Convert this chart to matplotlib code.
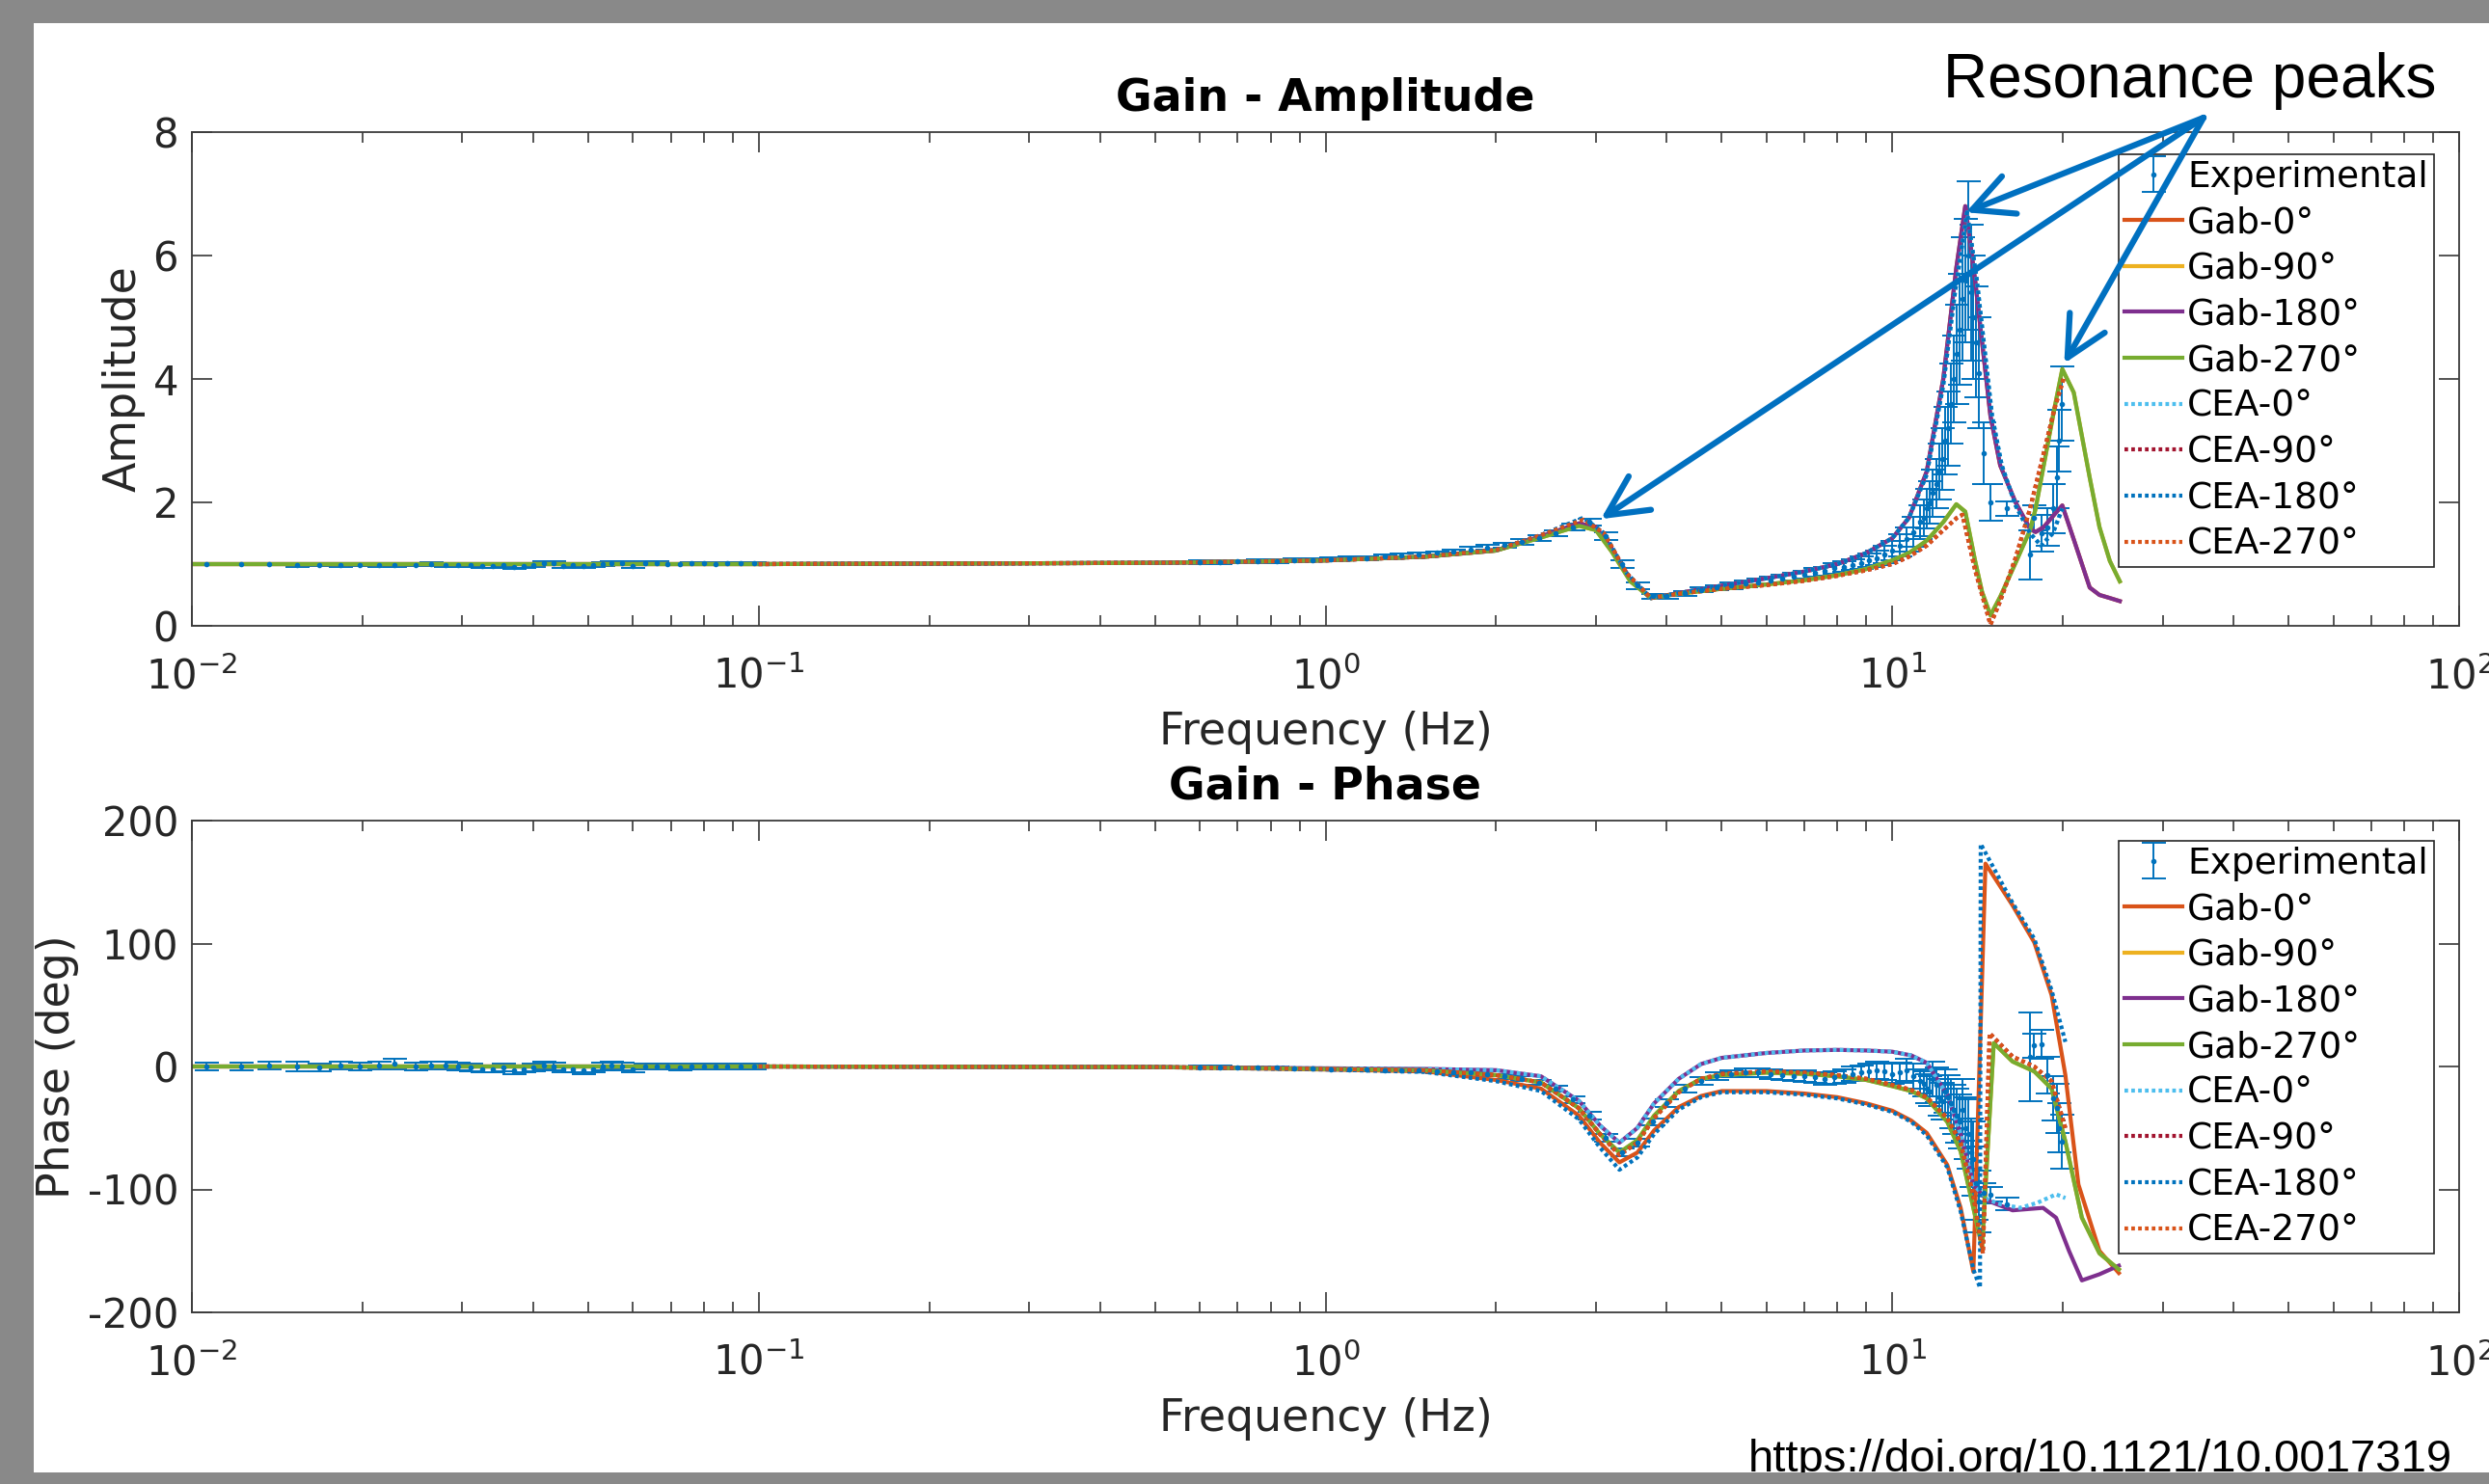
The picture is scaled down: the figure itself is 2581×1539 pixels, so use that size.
import matplotlib
matplotlib.use("Agg")
import matplotlib.pyplot as plt
from matplotlib.patches import Rectangle

plt.rcParams['font.family'] = ['DejaVu Sans']
plt.rcParams['axes.unicode_minus'] = False
plt.rcParams['mathtext.default'] = 'regular'

W, H = 2581, 1539

f_exp_lo = [0.0106, 0.0122, 0.0137, 0.0153, 0.0168, 0.0183, 0.0198, 0.0214, 0.0228, 0.0248,
            0.0264, 0.028, 0.0295, 0.031, 0.0325, 0.034, 0.0355, 0.037, 0.0385, 0.04,
            0.0418, 0.0435, 0.0452, 0.047, 0.049, 0.051, 0.053, 0.055, 0.0575, 0.06,
            0.063, 0.066, 0.069, 0.0725, 0.076, 0.08, 0.084, 0.088, 0.093, 0.098]
amp_exp_lo = [1.0, 1.0, 1.0, 0.99, 0.99, 0.99, 0.99, 0.99, 0.99, 0.99,
              1.0, 0.99, 0.98, 0.98, 0.97, 0.97, 0.98, 0.96, 0.97, 0.98,
              1.02, 1.01, 0.97, 0.98, 0.97, 0.98, 1.0, 1.02, 1.02, 0.97,
              1.02, 1.01, 1.0, 1.0, 1.01, 1.01, 1.0, 1.01, 1.01, 1.01]
amp_err_lo = [0.02, 0.02, 0.02, 0.03, 0.02, 0.03, 0.02, 0.03, 0.03, 0.02,
              0.03, 0.03, 0.03, 0.03, 0.03, 0.04, 0.03, 0.04, 0.03, 0.03,
              0.03, 0.03, 0.04, 0.03, 0.03, 0.03, 0.03, 0.03, 0.03, 0.04,
              0.03, 0.03, 0.02, 0.02, 0.02, 0.02, 0.02, 0.02, 0.02, 0.02]
ph_exp_lo = [0, 0, 1, 0, -1, 1, 0, 1, 2, 0,
             1, 1, 0, -1, -2, -2, -1, -3, -2, -1,
             1, 0, -2, -2, -3, -2, 0, 1, 0, -2,
             0, 0, 0, -1, 0, 0, 0, 0, 0, 0]
ph_err_lo = [3, 3, 3, 4, 3, 3, 3, 3, 4, 3,
             3, 3, 3, 3, 3, 3, 3, 3, 3, 3,
             3, 3, 3, 3, 3, 3, 3, 3, 3, 3,
             2, 2, 2, 2, 2, 2, 2, 2, 2, 2]

f_exp_hi = [0.6, 0.65, 0.7, 0.76, 0.82, 0.88, 0.95, 1.02, 1.1, 1.18,
            1.27, 1.36, 1.46, 1.57, 1.68, 1.8, 1.93, 2.07, 2.22, 2.38,
            2.55, 2.73, 2.92, 3.12, 3.33, 3.55, 3.78, 4.0, 4.3, 4.6,
            4.9, 5.2, 5.5, 5.8, 6.1, 6.4, 6.7, 7.0, 7.3, 7.6,
            7.9, 8.2, 8.5, 8.8, 9.1, 9.4, 9.7, 10.0, 10.3, 10.6,
            10.9, 11.2, 11.5, 11.8, 12.1, 12.4, 12.7, 13.0, 13.3, 13.6,
            13.9, 14.2, 14.9, 15.9, 17.5, 17.8, 18.3, 18.8, 19.2, 19.5,
            19.7, 19.9,
            11.35, 11.65, 11.95, 12.25, 12.55, 12.85, 13.15, 13.45, 13.75, 14.05,
            14.5]
amp_exp_hi = [1.03, 1.03, 1.04, 1.05, 1.05, 1.06, 1.07, 1.08, 1.09, 1.1,
              1.12, 1.14, 1.16, 1.18, 1.21, 1.24, 1.27, 1.31, 1.36, 1.42,
              1.5, 1.6, 1.68, 1.45, 1.0, 0.65, 0.48, 0.48, 0.53, 0.58,
              0.62, 0.65, 0.68, 0.71, 0.74, 0.77, 0.8, 0.83, 0.86, 0.89,
              0.93, 0.96, 0.99, 1.02, 1.06, 1.1, 1.15, 1.22, 1.3, 1.4,
              1.52, 1.68, 1.9, 2.15, 2.5, 3.0, 3.6, 4.4, 5.3, 6.0,
              5.0, 4.1, 2.0, 1.9, 1.15, 1.75, 1.5, 1.6, 1.9, 2.4,
              3.0, 3.6,
              1.75, 2.0, 2.3, 2.7, 3.2, 4.0, 4.8, 5.6, 5.4, 4.6,
              2.8]
amp_err_hi = [0.03, 0.03, 0.03, 0.03, 0.03, 0.03, 0.03, 0.03, 0.03, 0.03,
              0.03, 0.03, 0.03, 0.03, 0.03, 0.04, 0.04, 0.04, 0.04, 0.05,
              0.05, 0.05, 0.06, 0.06, 0.06, 0.05, 0.04, 0.04, 0.04, 0.04,
              0.04, 0.05, 0.05, 0.05, 0.05, 0.06, 0.06, 0.06, 0.07, 0.07,
              0.08, 0.08, 0.09, 0.1, 0.11, 0.12, 0.14, 0.16, 0.18, 0.2,
              0.24, 0.28, 0.32, 0.38, 0.45, 0.55, 0.65, 0.8, 1.0, 1.2,
              1.0, 0.9, 0.3, 0.12, 0.4, 0.2, 0.3, 0.3, 0.4, 0.5,
              0.5, 0.6,
              0.3, 0.35, 0.4, 0.5, 0.6, 0.7, 0.9, 1.0, 1.1, 0.9,
              0.5]
ph_exp_hi = [-0.5, -0.5, -1, -1, -1, -1.5, -1.5, -2, -2, -2.5,
             -3, -3, -3.5, -4, -4.5, -5, -6, -8, -10, -13,
             -18, -27, -40, -58, -70, -62, -45, -30, -18, -12,
             -8, -6, -5, -5, -6, -7, -8, -8, -9, -10,
             -9, -8, -6, -5, -4, -3, -4, -6, -5, -3,
             -8, -12, -18, -10, -25, -20, -30, -40, -35, -55,
             -75, -110, -104, -112, 8, 17, 18, -7, -26, -34,
             -50, -61,
             -14, -20, -15, -28, -25, -35, -45, -50, -70, -95,
             -103]
ph_err_hi = [1, 1, 1, 1, 1, 1, 1, 1, 1, 1,
             1, 1, 1.5, 1.5, 1.5, 2, 2, 2, 2, 2,
             2.5, 2.5, 3, 3, 3, 3, 3, 3, 3, 3,
             3, 3, 3.5, 3.5, 4, 4, 4, 4.5, 4.5, 5,
             5, 5.5, 6, 6, 6.5, 7, 7, 8, 8, 9,
             10, 10, 12, 14, 15, 18, 20, 22, 25, 28,
             30, 25, 6, 5, 36, 10, 12, 15, 18, 20,
             20, 22,
             10, 12, 14, 15, 18, 20, 22, 25, 28, 30,
             8]

# ---- model curves: amplitude ----
f_amp_gab = [0.01, 0.1, 0.5, 1.0, 1.5, 2.0, 2.4, 2.8, 3.0, 3.2,
             3.45, 3.75, 4.2, 5.0, 6.0, 7.0, 8.0, 9.0, 10.0, 10.7,
             11.5, 12.3, 12.97, 13.45, 14.0, 14.4, 14.9, 15.5, 16.5, 17.5,
             17.9, 18.5, 19.3, 19.95, 20.9, 22.3, 23.2, 24.2, 25.2]
amp_gab_0_180 = [1.0, 1.0, 1.02, 1.06, 1.12, 1.22, 1.45, 1.66, 1.6, 1.25,
                 0.75, 0.45, 0.53, 0.65, 0.77, 0.88, 1.0, 1.18, 1.42, 1.75,
                 2.5, 4.0, 5.8, 6.8, 5.6, 4.6, 3.4, 2.6, 2.0, 1.57,
                 1.52, 1.6, 1.8, 1.95, 1.4, 0.62, 0.5, 0.45, 0.4]
amp_gab_90_270 = [1.0, 1.0, 1.02, 1.06, 1.12, 1.22, 1.43, 1.62, 1.55, 1.2,
                  0.72, 0.45, 0.52, 0.6, 0.67, 0.74, 0.82, 0.92, 1.06, 1.18,
                  1.38, 1.68, 1.97, 1.85, 1.05, 0.55, 0.17, 0.47, 1.02, 1.55,
                  1.9, 2.6, 3.5, 4.16, 3.78, 2.4, 1.6, 1.05, 0.72]

f_amp_cea_a = [0.1, 0.5, 1.0, 1.5, 2.0, 2.4, 2.85, 3.1, 3.4, 3.75,
               4.2, 5.0, 6.0, 7.0, 8.0, 9.0, 10.0, 10.7, 11.5, 12.3,
               12.9, 13.55, 14.1, 14.5, 15.0, 15.6, 16.5, 17.5, 18.3, 19.2,
               19.95]
amp_cea_0_180 = [1.0, 1.02, 1.06, 1.12, 1.23, 1.47, 1.75, 1.5, 0.85, 0.45,
                 0.53, 0.65, 0.77, 0.88, 1.0, 1.18, 1.42, 1.75, 2.45, 3.9,
                 5.4, 6.7, 5.6, 4.6, 3.4, 2.6, 1.95, 1.5, 1.3, 1.5,
                 1.9]
f_amp_cea_b = [0.1, 0.5, 1.0, 1.5, 2.0, 2.4, 2.85, 3.1, 3.4, 3.75,
               4.2, 5.0, 6.0, 7.0, 8.0, 9.0, 10.0, 10.7, 11.5, 12.3,
               13.0, 13.3, 14.0, 14.9, 15.5, 16.5, 17.5, 18.5, 19.3, 20.05]
amp_cea_90_270 = [1.0, 1.02, 1.06, 1.12, 1.23, 1.47, 1.72, 1.5, 0.85, 0.45,
                  0.52, 0.6, 0.66, 0.73, 0.81, 0.9, 1.0, 1.12, 1.3, 1.55,
                  1.75, 1.8, 0.9, 0.02, 0.4, 1.1, 1.9, 2.8, 3.5, 4.0]

# ---- model curves: phase ----
f_ph_gab0 = [0.01, 0.1, 0.5, 1.0, 1.5, 2.0, 2.4, 2.8, 3.05, 3.3,
             3.55, 3.8, 4.2, 4.6, 5.0, 6.0, 7.0, 8.0, 9.0, 10.0,
             10.8, 11.5, 12.5, 13.2, 13.9, 14.6, 16.3, 17.8, 19.1, 20.2,
             21.3, 23.2, 25.1]
ph_gab0 = [0, 0, -0.5, -2.5, -4, -11, -18, -40, -62, -78,
           -70, -52, -33, -24, -20, -20, -22, -25, -30, -36,
           -44, -54, -80, -115, -167, 165, 131, 101, 58, -7,
           -96, -150, -168]
f_ph_gab180 = [0.01, 0.1, 0.5, 1.0, 1.5, 2.0, 2.4, 2.8, 3.05, 3.3,
               3.55, 3.8, 4.2, 4.6, 5.0, 6.0, 7.0, 8.0, 9.0, 10.0,
               10.8, 11.5, 12.5, 13.2, 13.9, 14.7, 16.3, 18.45, 19.45, 20.5,
               21.6, 23.2, 25.1]
ph_gab180 = [0, 0, -0.5, -1.5, -2, -3, -8, -28, -48, -62,
             -50, -30, -10, 2, 7, 11, 13, 13.5, 13, 12,
             9, 3, -23, -55, -96, -109, -117, -115, -123, -150,
             -174, -169, -162]
f_ph_gab270 = [0.01, 0.1, 0.5, 1.0, 1.5, 2.0, 2.4, 2.8, 3.05, 3.3,
               3.55, 3.8, 4.2, 4.6, 5.0, 6.0, 7.0, 8.0, 9.0, 10.0,
               10.8, 11.5, 12.5, 13.2, 13.9, 14.4, 15.1, 16.3, 17.8, 19.1,
               20.2, 21.6, 23.2, 25.1]
ph_gab90_270 = [0, 0, -0.5, -2, -3, -7, -13, -34, -55, -70,
                -60, -40, -20, -10, -7, -5, -6, -8, -11, -16,
                -20, -26, -45, -69, -115, -147, 19, 4, -4, -18,
                -61, -123, -152, -165]

f_ph_cea0 = [0.1, 0.5, 1.0, 1.5, 2.0, 2.4, 2.8, 3.05, 3.3, 3.55,
             3.8, 4.2, 4.6, 5.0, 6.0, 7.0, 8.0, 9.0, 10.0, 10.8,
             11.5, 12.5, 13.2, 13.9, 14.7, 15.5, 16.8, 18.0, 19.45, 20.2]
ph_cea0 = [0, -0.5, -1.5, -2, -3, -8, -28, -48, -62, -50,
           -30, -10, 2, 7, 11, 13, 13.5, 13, 12, 9,
           3, -23, -55, -96, -108, -112, -115, -111, -104, -107]
f_ph_cea180 = [0.1, 0.5, 1.0, 1.5, 2.0, 2.4, 2.8, 3.05, 3.3, 3.55,
               3.8, 4.2, 4.6, 5.0, 6.0, 7.0, 8.0, 9.0, 10.0, 10.8,
               11.5, 12.5, 13.2, 13.9, 14.28, 14.32, 16.3, 17.8, 19.1, 20.2]
ph_cea180 = [0, -0.5, -2.5, -4.5, -12, -20, -43, -66, -84, -74,
             -55, -35, -25, -21, -21, -23, -26, -31, -37, -45,
             -56, -82, -118, -165, -180, 181, 133, 104, 62, 20]
f_ph_cea270 = [0.1, 0.5, 1.0, 1.5, 2.0, 2.4, 2.8, 3.05, 3.3, 3.55,
               3.8, 4.2, 4.6, 5.0, 6.0, 7.0, 8.0, 9.0, 10.0, 10.8,
               11.5, 12.5, 13.2, 13.9, 14.45, 14.85, 16.3, 17.8, 19.1, 20.2]
ph_cea90_270 = [0, -0.5, -2, -3, -7, -13, -34, -55, -72, -62,
                -42, -21, -10, -6, -4, -5, -7, -10, -15, -19,
                -25, -42, -62, -105, -152, 27, 8, 0, -12, -50]

labels = ['Gab-0°', 'Gab-90°', 'Gab-180°', 'Gab-270°',
          'CEA-0°', 'CEA-90°', 'CEA-180°', 'CEA-270°']
colors = ['#D95319', '#EDB120', '#7E2F8E', '#77AC30',
          '#4DBEEE', '#A2142F', '#0072BD', '#D95319']

amp_series = [(f_amp_gab, amp_gab_0_180), (f_amp_gab, amp_gab_90_270),
              (f_amp_gab, amp_gab_0_180), (f_amp_gab, amp_gab_90_270),
              (f_amp_cea_a, amp_cea_0_180), (f_amp_cea_b, amp_cea_90_270),
              (f_amp_cea_a, amp_cea_0_180), (f_amp_cea_b, amp_cea_90_270)]
ph_series = [(f_ph_gab0, ph_gab0), (f_ph_gab270, ph_gab90_270),
             (f_ph_gab180, ph_gab180), (f_ph_gab270, ph_gab90_270),
             (f_ph_cea0, ph_cea0), (f_ph_cea270, ph_cea90_270),
             (f_ph_cea180, ph_cea180), (f_ph_cea270, ph_cea90_270)]

ink = '#262626'
fig = plt.figure(figsize=(W / 100, H / 100), dpi=100)
ax1 = fig.add_axes([199 / W, 1 - 649 / H, 2351 / W, 512 / H])
ax2 = fig.add_axes([199 / W, 1 - 1361 / H, 2351 / W, 510 / H])


def draw(ax, y_lo, e_lo, y_hi, e_hi, series):
    ax.errorbar(f_exp_lo + f_exp_hi, y_lo + y_hi, yerr=e_lo + e_hi, fmt='.',
                color='#0072BD', ms=6, elinewidth=1.4, capsize=9, capthick=1.4,
                label='Experimental')
    for i, (f, y) in enumerate(series):
        ls = '-' if i < 4 else (0, (0.9, 0.8))
        ax.plot(f, y, color=colors[i], lw=3, ls=ls, label=labels[i])
    ax.set_xscale('log')
    ax.set_xlim(0.01, 100)
    ax.set_xticks([0.01, 0.1, 1, 10, 100])
    ax.tick_params(which='both', direction='in', top=True, right=True,
                   color=ink, labelcolor=ink, labelsize=30, width=1.1)
    ax.tick_params(which='major', length=15, pad=10)
    ax.tick_params(which='minor', length=8)
    ax.tick_params(axis='x', which='major', pad=23)
    for s in ax.spines.values():
        s.set_color('#3c3c3c')
        s.set_linewidth(1.3)
    ax.set_xlabel('Frequency (Hz)', fontsize=33, color=ink, labelpad=10)

    # legend: Experimental first, like the original
    hs, ls_ = ax.get_legend_handles_labels()
    order = [ls_.index('Experimental')] + [ls_.index(l) for l in labels]
    return [hs[k] for k in order], [ls_[k] for k in order]


leg_items = []
leg_items.append(draw(ax1, amp_exp_lo, amp_err_lo, amp_exp_hi, amp_err_hi, amp_series))
ax1.set_ylim(0, 8)
ax1.set_yticks([0, 2, 4, 6, 8])
ax1.set_ylabel('Amplitude', fontsize=33, color=ink)
ax1.yaxis.set_label_coords(-0.0204, 0.5)
ax1.set_title('Gain - Amplitude', fontsize=33, fontweight='bold', pad=16)

leg_items.append(draw(ax2, ph_exp_lo, ph_err_lo, ph_exp_hi, ph_err_hi, ph_series))
ax2.set_ylim(-200, 200)
ax2.set_yticks([-200, -100, 0, 100, 200])
ax2.set_ylabel('Phase (deg)', fontsize=33, color=ink)
ax2.yaxis.set_label_coords(-0.0498, 0.5)
ax2.set_title('Gain - Phase', fontsize=33, fontweight='bold', pad=16)

for ax, top, (hs, lb) in zip([ax1, ax2], [160, 872], leg_items):
    leg = ax.legend(hs, lb, loc='upper left', bbox_to_anchor=(2197 / W, 1 - top / H),
                    bbox_transform=fig.transFigure, fontsize=27, frameon=True,
                    fancybox=False, framealpha=1, edgecolor=ink, borderpad=0.15,
                    labelspacing=0.31, handlelength=1.6, handletextpad=0.15,
                    borderaxespad=0)
    leg.get_frame().set_linewidth(1.2)

# annotation arrows (drawn above the legend)
start = (2285 / W, 1 - 122 / H)
for tip in [(13.48, 6.70), (3.06, 1.73), (20.1, 4.25)]:
    ax1.annotate('', xy=tip, xycoords='data', xytext=start, textcoords='figure fraction',
                 arrowprops=dict(arrowstyle='->,head_length=1.0,head_width=0.5',
                                 color='#0070C0', lw=4.5, mutation_scale=30,
                                 shrinkA=0, shrinkB=0),
                 annotation_clip=False, zorder=12)

fig.text(2271 / W, 1 - 84 / H, 'Resonance peaks', family='Liberation Sans',
         fontsize=46, ha='center', va='center', color='black')
fig.text(2543 / W, 1 - 1526 / H, 'https://doi.org/10.1121/10.0017319',
         family='Liberation Sans', fontsize=34, ha='right', va='baseline',
         color='black', zorder=5)

# grey slide border
grey = '#898989'
for x0, y0, w, h in [(0, 0, 35, H), (0, 0, W, 24), (0, 1527, W, H - 1527)]:
    fig.add_artist(Rectangle((x0 / W, 1 - (y0 + h) / H), w / W, h / H,
                             transform=fig.transFigure, facecolor=grey,
                             edgecolor='none', zorder=20))

fig.savefig('out.png', dpi=100, facecolor='white')
